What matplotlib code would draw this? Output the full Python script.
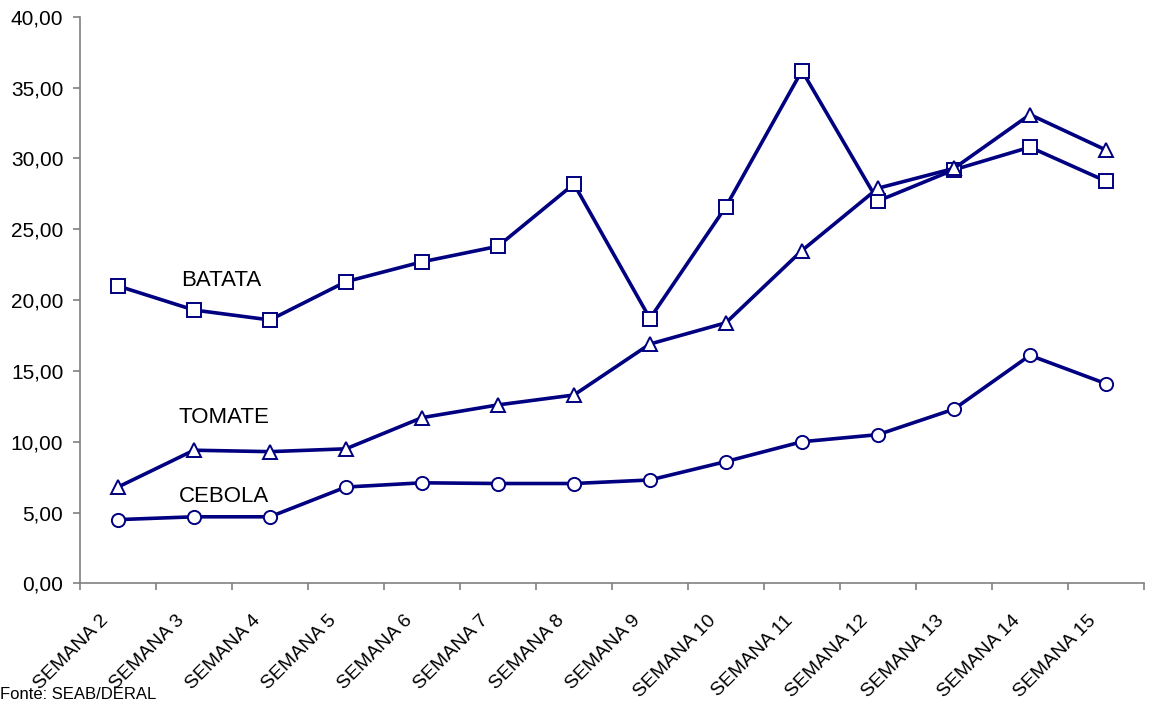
import matplotlib
matplotlib.use("Agg")
import matplotlib.pyplot as plt
import matplotlib.transforms as mtransforms
from matplotlib.ticker import FuncFormatter, FixedLocator

semanas = ["SEMANA %d" % i for i in range(2, 16)]
batata = [21.0, 19.3, 18.6, 21.3, 22.7, 23.8, 28.2, 18.7, 26.6, 36.2, 27.0, 29.2, 30.8, 28.4]
tomate = [6.8, 9.4, 9.3, 9.5, 11.7, 12.6, 13.3, 16.9, 18.4, 23.5, 27.9, 29.3, 33.1, 30.6]
cebola = [4.5, 4.7, 4.7, 6.8, 7.1, 7.05, 7.05, 7.3, 8.6, 10.0, 10.5, 12.3, 16.1, 14.1]

plt.rcParams["font.family"] = ["Liberation Sans", "DejaVu Sans"]
navy = "#000080"

fig = plt.figure(figsize=(11.52, 7.02), dpi=100)
ax = fig.add_axes([0.0694, 0.169, 0.9236, 0.807])

x = list(range(len(semanas)))
style = dict(color=navy, lw=2.6, markerfacecolor="white", markeredgecolor=navy,
             markeredgewidth=1.4, clip_on=False)
ax.plot(x, batata, marker="s", ms=9.5, **style)
ax.plot(x, tomate, marker="^", ms=10, **style)
ax.plot(x, cebola, marker="o", ms=9.5, **style)

ax.text(0.83, 21.4, "BATATA", fontsize=16, va="center", ha="left")
ax.text(0.80, 11.7, "TOMATE", fontsize=16, va="center", ha="left")
ax.text(0.80, 6.1, "CEBOLA", fontsize=16, va="center", ha="left")

ax.set_xlim(-0.5, len(semanas) - 0.5)
ax.set_ylim(0, 40)
ax.set_yticks(range(0, 41, 5))
ax.yaxis.set_major_formatter(FuncFormatter(lambda v, p: ("%.2f" % v).replace(".", ",")))
ax.tick_params(axis="y", labelsize=15, length=5, color="#808080", width=1.2, pad=7)

# tick marks sit between the categories, labels at the centres
ax.xaxis.set_major_locator(FixedLocator([i - 0.5 for i in range(len(semanas) + 1)]))
ax.xaxis.set_major_formatter(FuncFormatter(lambda v, p: ""))
ax.tick_params(axis="x", length=5, color="#808080", width=1.2)
ax.set_xticks(x, minor=True)
ax.set_xticklabels(semanas, minor=True, rotation=45, ha="right", va="center",
                   rotation_mode="anchor", fontsize=14)
ax.tick_params(axis="x", which="minor", length=0, pad=25)
shift = mtransforms.ScaledTranslation(-0.12, 0, fig.dpi_scale_trans)
for lab in ax.get_xticklabels(minor=True):
    lab.set_transform(lab.get_transform() + shift)

for s in ["top", "right"]:
    ax.spines[s].set_visible(False)
for s in ["left", "bottom"]:
    ax.spines[s].set_color("#808080")
    ax.spines[s].set_linewidth(1.2)

fig.text(0.0, 0.0, "Fonte: SEAB/DERAL", fontsize=12, ha="left", va="bottom")

fig.savefig("out.png", dpi=100)
